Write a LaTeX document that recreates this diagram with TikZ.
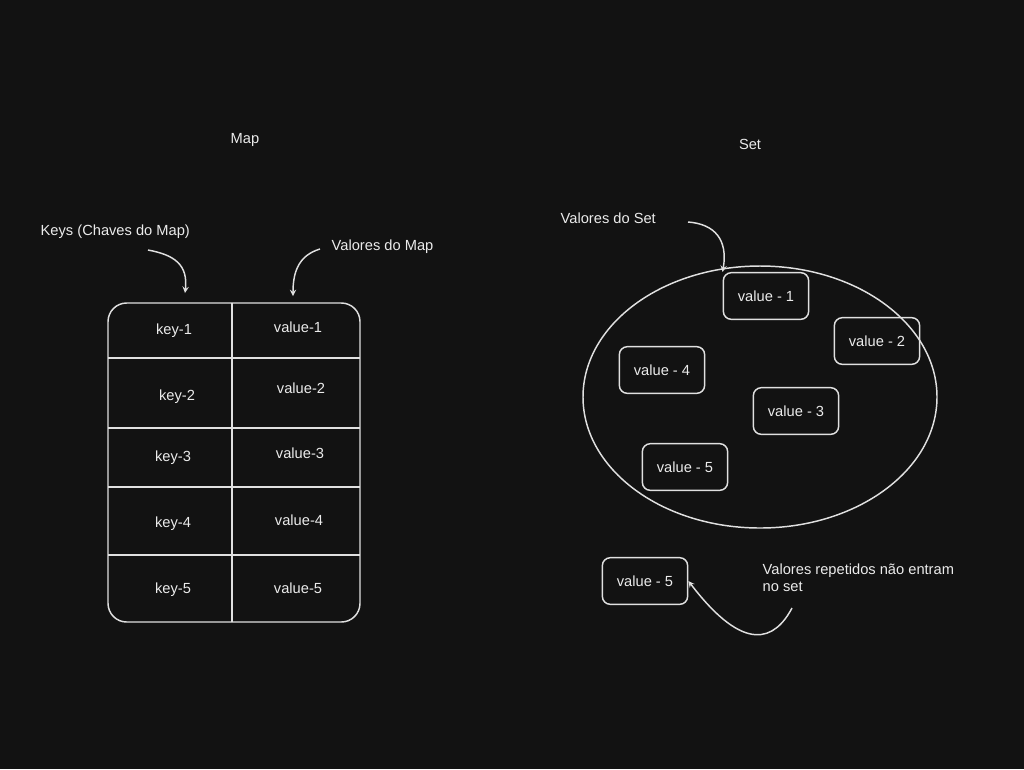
\documentclass[tikz,border=0pt]{standalone}
\usepackage{fontspec}
\setmainfont{Liberation Sans}
\begin{document}
\begin{tikzpicture}[x=0.75pt,y=-0.75pt,
  ln/.style={draw=white!88!black,line width=1.1pt},
  t/.style={text=white!92!black,font=\fontsize{11}{13}\selectfont},
  box/.style={ln,rounded corners=6pt,minimum width=64pt,minimum height=35pt,t},
  arr/.style={ln,->,>={stealth}}]
\fill[black!93!white] (0,0) rectangle (1024,769);
\useasboundingbox (0,0) rectangle (1024,769);
\node[t] (tmap) at (245,140) {Map};
\node[t] (tset) at (750,144) {Set};
% table
\draw[ln,rounded corners=14pt] (108,303) rectangle (360,622);
\draw[ln] (232,303) -- (232,622);
\foreach \y in {358,428,487,555} \draw[ln] (108,\y) -- (360,\y);
\node[t] (k1) at (174,331) {key-1}; \node[t] (v1) at (298,327) {value-1};
\node[t] (k2) at (177,397) {key-2}; \node[t] (v2) at (301,388) {value-2};
\node[t] (k3) at (173,458) {key-3}; \node[t] (v3) at (300,453) {value-3};
\node[t] (k4) at (173,524) {key-4}; \node[t] (v4) at (299,520) {value-4};
\node[t] (k5) at (173,590) {key-5}; \node[t] (v5) at (298,588) {value-5};
\node[t,anchor=west] (keys) at (36,232) {Keys (Chaves do Map)};
\coordinate (ka) at (185,293);
\draw[arr] (148,250) .. controls (175,255) and (188,265) .. (ka);
\node[t,anchor=west] (vals) at (327,247) {Valores do Map};
\coordinate (va) at (293,296);
\draw[arr] (320,249) .. controls (300,255) and (293,270) .. (va);
% set
\draw[ln] (760,397) ellipse (177 and 131);
\node[box] (s1) at (766,296) {value - 1};
\node[box] (s2) at (877,341) {value - 2};
\node[box] (s4) at (662,370) {value - 4};
\node[box] (s3) at (796,411) {value - 3};
\node[box] (s5) at (685,467) {value - 5};
\node[box] (r5) at (645,581) {value - 5};
\node[t,anchor=west] (vs) at (556,218) {Valores do Set};
\draw[arr] (688,222) .. controls (715,224) and (728,240) .. (s1.north west);
\node[t,anchor=west,align=left] (rep) at (758,578) {Valores repetidos não entram\\no set};
\draw[arr] (792,608) .. controls (775,640) and (745,655) .. (r5.east);
\end{tikzpicture}
\end{document}
